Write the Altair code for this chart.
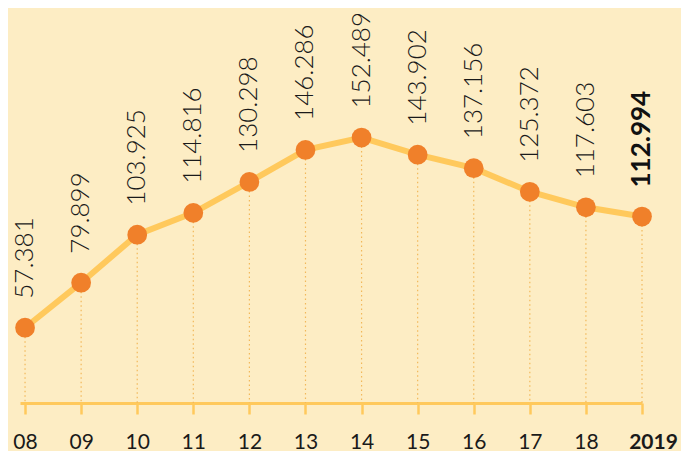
import altair as alt
import pandas as pd

years = ["08", "09", "10", "11", "12", "13", "14", "15", "16", "17", "18", "2019"]
values = [57.381, 79.899, 103.925, 114.816, 130.298, 146.286, 152.489,
          143.902, 137.156, 125.372, 117.603, 112.994]
labels = ["57.381", "79.899", "103.925", "114.816", "130.298", "146.286", "152.489",
          "143.902", "137.156", "125.372", "117.603", "112.994"]

Y_MIN, Y_MAX = 19.75, 217.25
X_MIN, X_MAX = -0.09, 11.0

df = pd.DataFrame({
    "i": list(range(len(years))),
    "year": years,
    "v": values,
    "label": labels,
    "base": [Y_MIN] * len(years),
    "last": [False] * (len(years) - 1) + [True],
})

LINE = "#FFC95C"
DOT = "#F0802A"
BG = "#FDEDC4"

label_expr = "[" + ",".join("'" + y + "'" for y in years) + "][datum.value]"
last_test = f"datum.value == {len(years)-1}"

x = alt.X("i:Q",
          scale=alt.Scale(domain=[X_MIN, X_MAX], nice=False, zero=False),
          axis=alt.Axis(values=list(range(len(years))), labelExpr=label_expr,
                        title=None, grid=False, domainColor=LINE, domainWidth=3,
                        tickColor=LINE, tickWidth=2.5, tickSize=11,
                        labelFont="Lato", labelFontSize=21, labelColor="#1a1a1a",
                        labelPadding=17, labelFlush=False, labelOverlap=False,
                        labelOffset={"condition": {"test": last_test, "value": 11}, "value": 0},
                        labelFontWeight={"condition": {"test": last_test, "value": "bold"}, "value": "normal"}))
y = alt.Y("v:Q", scale=alt.Scale(domain=[Y_MIN, Y_MAX], nice=False, zero=False), axis=None)

base = alt.Chart(df)

drops = base.mark_rule(color="#F2B85A", strokeWidth=1.2, strokeDash=[1.5, 3]).encode(
    x=x, y=y, y2="base:Q")
line = base.mark_line(color=LINE, strokeWidth=6).encode(x=x, y=y)
dots = base.mark_circle(color=DOT, size=390, opacity=1).encode(x=x, y=y)
txt = base.mark_text(angle=270, align="left", baseline="middle", dx=29,
                     font="Lato", fontSize=26, fontWeight=300, color="#1a1a1a").encode(
    x=x, y=y, text="label:N").transform_filter("!datum.last")
txt_b = base.mark_text(angle=270, align="left", baseline="middle", dx=29,
                       font="Lato", fontSize=26, fontWeight="bold", color="#111").encode(
    x=x, y=y, text="label:N").transform_filter("datum.last")

chart = alt.layer(drops, line, dots, txt, txt_b).properties(
    width=622, height=395,
    autosize=alt.AutoSizeParams(type="none"),
    padding={"left": 12, "right": 39, "top": 0, "bottom": 48},
).configure(background=BG).configure_view(stroke=None)

chart.save("out.html", embed_options={"renderer": "svg", "actions": False})
